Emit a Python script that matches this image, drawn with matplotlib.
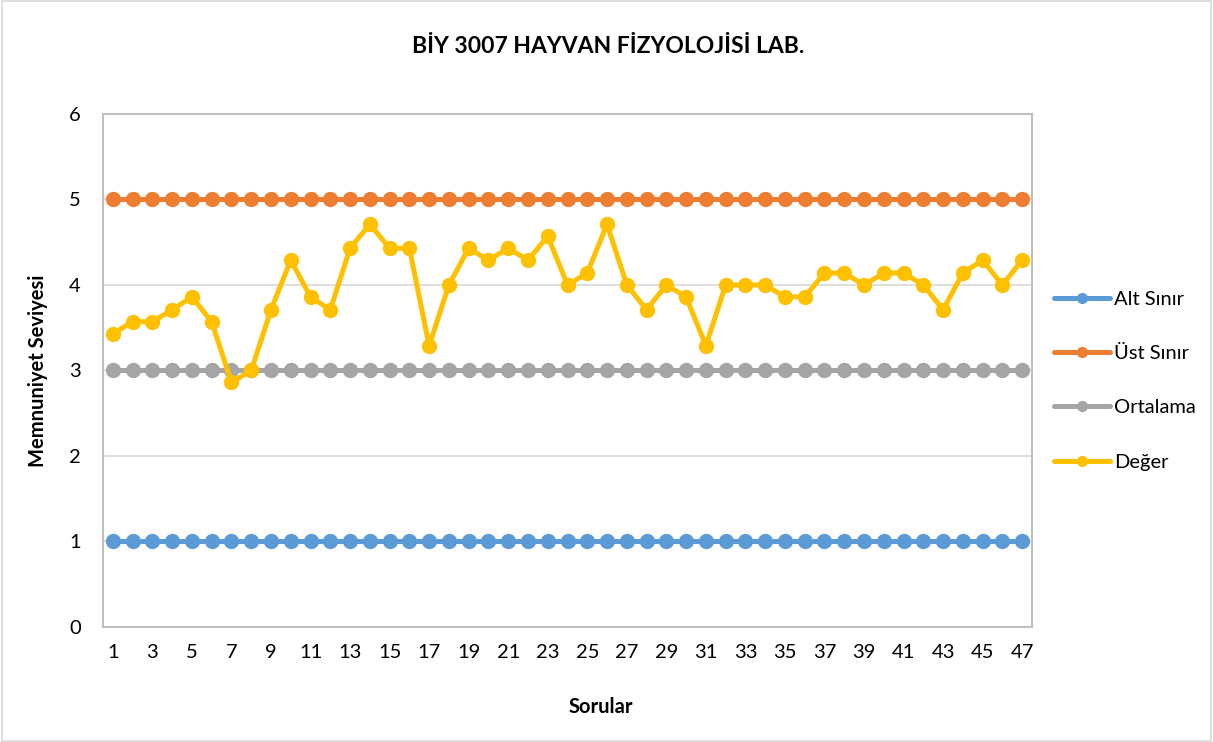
import numpy as np
import matplotlib
matplotlib.use('Agg')
from matplotlib import pyplot as plt
from matplotlib.patches import Rectangle

plt.rcParams['font.family'] = ['Lato', 'DejaVu Sans']

# data
sorular = np.arange(1, 48)
alt_sinir = [1] * 47
ust_sinir = [5] * 47
ortalama = [3] * 47
deger = [3.43, 3.57, 3.57, 3.71, 3.86, 3.57, 2.86, 3.00, 3.71, 4.29,
         3.86, 3.71, 4.43, 4.71, 4.43, 4.43, 3.29, 4.00, 4.43, 4.29,
         4.43, 4.29, 4.57, 4.00, 4.14, 4.71, 4.00, 3.71, 4.00, 3.86,
         3.29, 4.00, 4.00, 4.00, 3.86, 3.86, 4.14, 4.14, 4.00, 4.14,
         4.14, 4.00, 3.71, 4.14, 4.29, 4.00, 4.29]
x_ticks = list(range(1, 48, 2))

series = [
    ('Alt Sınır', alt_sinir, '#5B9BD5'),
    ('Üst Sınır', ust_sinir, '#ED7D31'),
    ('Ortalama', ortalama, '#A5A5A5'),
    ('Değer', deger, '#FFC000'),
]

fig = plt.figure(figsize=(12.13, 7.42), dpi=100)
ax = fig.add_axes([0.0849, 0.155, 0.7659, 0.6914])

for name, vals, col in series:
    ax.plot(sorular, vals, color=col, lw=3.6, marker='o', markersize=10,
            label=name, solid_capstyle='round', solid_joinstyle='round')

ax.set_xlim(0.5, 47.5)
ax.set_ylim(0, 6)
ax.set_yticks(range(0, 7))
ax.set_xticks(x_ticks)
ax.tick_params(length=0, labelsize=14.5, colors='black')
ax.tick_params(axis='x', pad=12)
ax.tick_params(axis='y', pad=16)
ax.grid(axis='y', color='#D9D9D9', lw=1.2)
ax.set_axisbelow(True)
for s in ax.spines.values():
    s.set_color('#BFBFBF')
    s.set_linewidth(1.5)

fig.text(0.501, 0.938, 'BİY 3007 HAYVAN FİZYOLOJİSİ LAB.', ha='center', va='center',
         fontsize=16.5, fontweight='bold')
fig.text(0.031, 0.50, 'Memnuniyet Seviyesi', rotation=90, ha='center', va='center',
         fontsize=14.5, fontweight='bold')
fig.text(0.4955, 0.047, 'Sorular', ha='center', va='center',
         fontsize=14.5, fontweight='bold')

fig.legend(loc='center left', bbox_to_anchor=(0.854, 0.487), frameon=False,
           fontsize=14.5, handlelength=2.8, markerscale=0.7, labelspacing=1.85,
           handletextpad=0.2)

fig.patches.append(Rectangle((0.002, 0.002), 0.996, 0.996, transform=fig.transFigure,
                             fill=False, edgecolor='#D9D9D9', lw=1.2))

fig.savefig('out.png', dpi=100)
